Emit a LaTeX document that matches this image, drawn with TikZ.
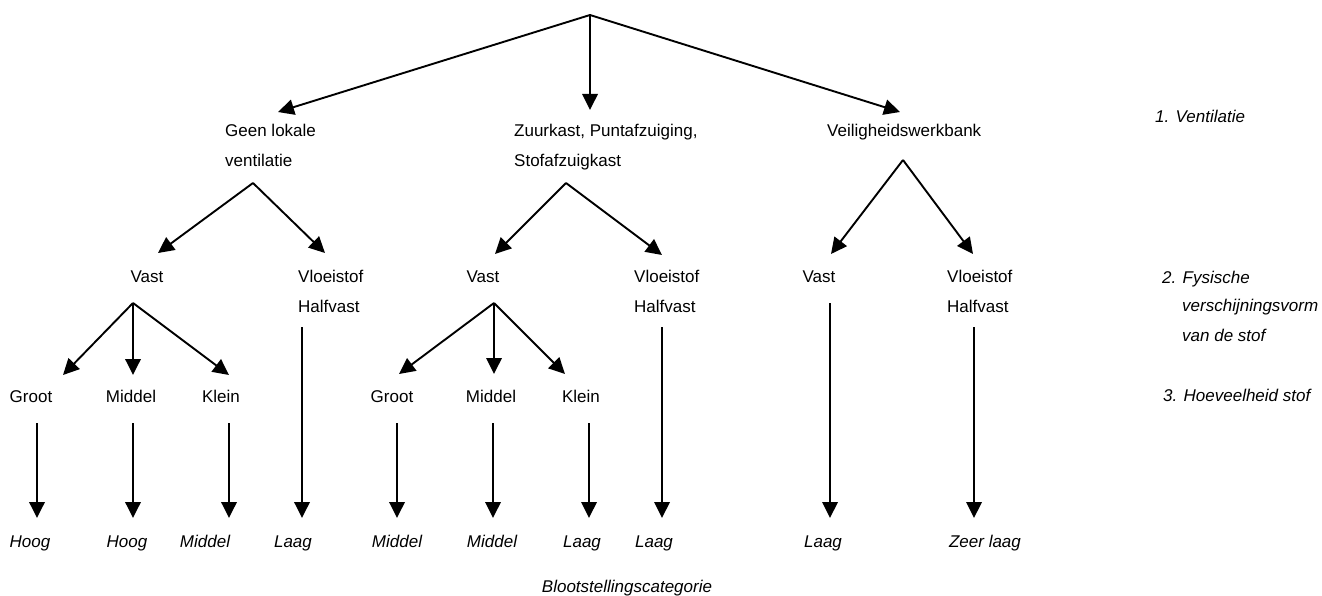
\documentclass[tikz,border=0pt]{standalone}
\usepackage{fontspec}
\setmainfont{Liberation Sans}
\usetikzlibrary{arrows.meta}
\begin{document}
\begin{tikzpicture}[x=1pt,y=-1pt,
  conn/.style={line width=1.9pt,-{Triangle[length=16pt,width=15.5pt]}},
  lbl/.style={inner sep=0pt,font=\fontsize{17}{30}\selectfont},
  ilbl/.style={inner sep=0pt,font=\fontsize{17}{30}\selectfont\itshape}]
\useasboundingbox (0,0) rectangle (1322,596);
% coordinates
\coordinate (root) at (590,15);
\coordinate (t-a) at (278,112);
\coordinate (t-b) at (590,110);
\coordinate (t-c) at (900,112);
\coordinate (apA) at (253,183);
\coordinate (apB) at (566,183);
\coordinate (apC) at (903,160);
\coordinate (tA1) at (158,253);
\coordinate (tA2) at (325,253);
\coordinate (tB1) at (495,254);
\coordinate (tB2) at (662,255);
\coordinate (tC1) at (831,254);
\coordinate (tC2) at (973,254);
\coordinate (apA1) at (133,303);
\coordinate (apB1) at (494,303);
\coordinate (tA11) at (63,375);
\coordinate (tA12) at (133,375);
\coordinate (tA13) at (229,375);
\coordinate (tB11) at (399,374);
\coordinate (tB12) at (494,374);
\coordinate (tB13) at (565,374);
% vertical line starts/ends
\foreach \n/\x/\y in {v1/37/423,v2/133/423,v3/229/423,v4/302/327,v5/397/423,v6/493/423,v7/589/423,v8/662/327,v9/830/303,v10/974/327}{
  \coordinate (\n s) at (\x,\y);
  \coordinate (\n e) at (\x,518);
}
% level 1 texts
\node[lbl,anchor=base west] (geen1) at (225,137) {Geen lokale};
\node[lbl,anchor=base west] (geen2) at (225,167) {ventilatie};
\node[lbl,anchor=base west] (zuur1) at (514,137) {Zuurkast, Puntafzuiging,};
\node[lbl,anchor=base west] (zuur2) at (514,167) {Stofafzuigkast};
\node[lbl,anchor=base west] (veil) at (827,137) {Veiligheidswerkbank};
% level 2 texts
\node[lbl,anchor=base] (vastA) at (147,282) {Vast};
\node[lbl,anchor=base west] (vloA1) at (298,282) {Vloeistof};
\node[lbl,anchor=base west] (vloA2) at (298,312) {Halfvast};
\node[lbl,anchor=base] (vastB) at (483,282) {Vast};
\node[lbl,anchor=base west] (vloB1) at (634,282) {Vloeistof};
\node[lbl,anchor=base west] (vloB2) at (634,312) {Halfvast};
\node[lbl,anchor=base] (vastC) at (819,282) {Vast};
\node[lbl,anchor=base west] (vloC1) at (947,282) {Vloeistof};
\node[lbl,anchor=base west] (vloC2) at (947,312) {Halfvast};
% level 3 texts
\node[lbl,anchor=base] (grootA) at (31,402) {Groot};
\node[lbl,anchor=base] (middelA) at (131,402) {Middel};
\node[lbl,anchor=base] (kleinA) at (221,402) {Klein};
\node[lbl,anchor=base] (grootB) at (392,402) {Groot};
\node[lbl,anchor=base] (middelB) at (491,402) {Middel};
\node[lbl,anchor=base] (kleinB) at (581,402) {Klein};
% bottom results
\node[ilbl,anchor=base] (r1) at (30,547) {Hoog};
\node[ilbl,anchor=base] (r2) at (127,547) {Hoog};
\node[ilbl,anchor=base] (r3) at (205,547) {Middel};
\node[ilbl,anchor=base] (r4) at (293,547) {Laag};
\node[ilbl,anchor=base] (r5) at (397,547) {Middel};
\node[ilbl,anchor=base] (r6) at (492,547) {Middel};
\node[ilbl,anchor=base] (r7) at (582,547) {Laag};
\node[ilbl,anchor=base] (r8) at (654,547) {Laag};
\node[ilbl,anchor=base] (r9) at (823,547) {Laag};
\node[ilbl,anchor=base] (r10) at (985,547) {Zeer laag};
\node[ilbl,anchor=base] (bloot) at (627,592) {Blootstellingscategorie};
% right legend
\node[ilbl,anchor=base west] (leg1) at (1155,123) {1. Ventilatie};
\node[ilbl,anchor=base west] (leg2a) at (1162,283) {2. Fysische};
\node[ilbl,anchor=base west] (leg2b) at (1182,311) {verschijningsvorm};
\node[ilbl,anchor=base west] (leg2c) at (1182,341) {van de stof};
\node[ilbl,anchor=base west] (leg3) at (1163,401) {3. Hoeveelheid stof};
% connectors
\draw[conn] (root) -- (t-a);
\draw[conn] (root) -- (t-b);
\draw[conn] (root) -- (t-c);
\draw[conn] (apA) -- (tA1);
\draw[conn] (apA) -- (tA2);
\draw[conn] (apB) -- (tB1);
\draw[conn] (apB) -- (tB2);
\draw[conn] (apC) -- (tC1);
\draw[conn] (apC) -- (tC2);
\draw[conn] (apA1) -- (tA11);
\draw[conn] (apA1) -- (tA12);
\draw[conn] (apA1) -- (tA13);
\draw[conn] (apB1) -- (tB11);
\draw[conn] (apB1) -- (tB12);
\draw[conn] (apB1) -- (tB13);
\foreach \n in {v1,v2,v3,v4,v5,v6,v7,v8,v9,v10}{
  \draw[conn] (\n s) -- (\n e);
}
\end{tikzpicture}
\end{document}
